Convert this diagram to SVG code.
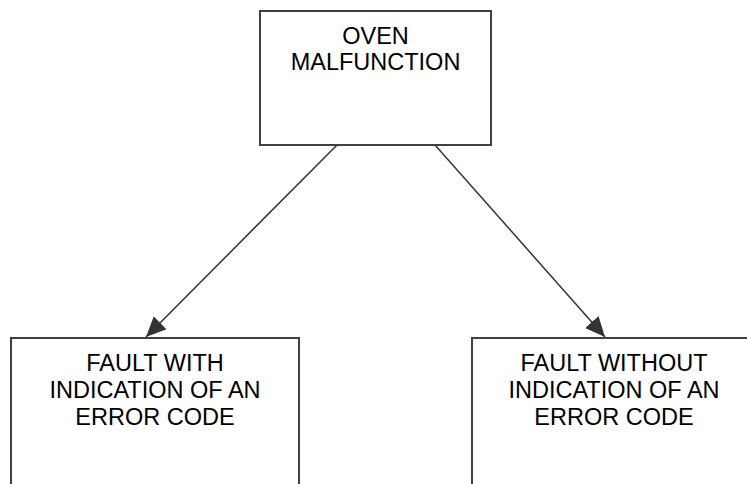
<svg xmlns="http://www.w3.org/2000/svg" width="747" height="484" viewBox="0 0 747 484">
  <style>
    .box { fill: #ffffff; stroke: #404040; stroke-width: 2; }
    .label { font-family: "Liberation Sans", Arial, sans-serif; font-size: 23.5px; fill: #000000; text-anchor: middle; }
    .edge { fill: none; stroke: #333333; stroke-width: 1.5; }
  </style>
  <defs>
    <marker id="arrow" viewBox="0 0 20 20" refX="20" refY="10" markerWidth="20" markerHeight="20" markerUnits="userSpaceOnUse" orient="auto">
      <path d="M0,1 L20,10 L0,19 Z" fill="#333333"/>
    </marker>
  </defs>
  <rect width="747" height="484" fill="#ffffff"/>

  <g id="edges">
    <path class="edge" d="M337,145 L146,337" marker-end="url(#arrow)"/>
    <path class="edge" d="M435,145 L605,337" marker-end="url(#arrow)"/>
  </g>

  <g id="oven-malfunction">
    <rect class="box" x="260" y="11" width="231" height="134"/>
    <text class="label" x="375.5" y="44">OVEN</text>
    <text class="label" x="375.5" y="70">MALFUNCTION</text>
  </g>

  <g id="fault-with-code">
    <rect class="box" x="11" y="338" width="288" height="160"/>
    <text class="label" x="155" y="371">FAULT WITH</text>
    <text class="label" x="155" y="398">INDICATION OF AN</text>
    <text class="label" x="155" y="425">ERROR CODE</text>
  </g>

  <g id="fault-without-code">
    <rect class="box" x="472" y="338" width="284" height="160"/>
    <text class="label" x="614" y="371">FAULT WITHOUT</text>
    <text class="label" x="614" y="398">INDICATION OF AN</text>
    <text class="label" x="614" y="425">ERROR CODE</text>
  </g>
</svg>
